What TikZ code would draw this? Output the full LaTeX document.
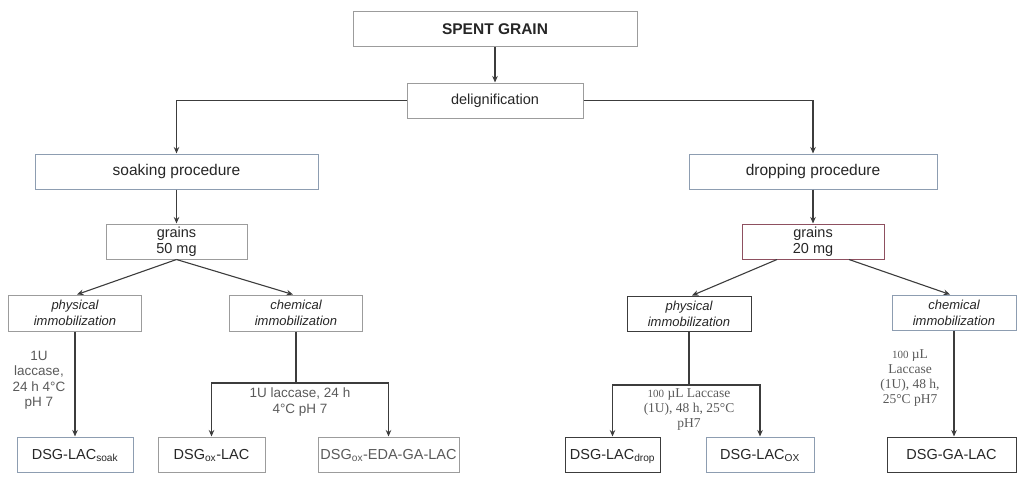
\documentclass[tikz,border=0pt]{standalone}
\usepackage{fontspec}
\setmainfont{Liberation Sans}
\newfontfamily\timesfont{Liberation Serif}
\usetikzlibrary{arrows.meta}
\definecolor{boxgray}{HTML}{9C9C9C}
\definecolor{boxblue}{HTML}{8D9DB1}
\definecolor{boxdark}{HTML}{3C3C3C}
\definecolor{boxred}{HTML}{8E5060}
\definecolor{txt}{HTML}{262626}
\definecolor{notegray}{HTML}{5A5A5A}

\begin{document}
\begin{tikzpicture}[
  x=1pt, y=-1pt,
  box/.style={rectangle, draw=boxgray, line width=1pt, text=txt, inner sep=0pt,
    minimum height=35pt, align=center, font=\fontsize{14.5}{16.5}\selectfont},
  outbox/.style={box, text height=11pt, text depth=2pt},
  immo/.style={box, font=\fontsize{13}{16}\selectfont\itshape},
  note/.style={text=notegray, align=center, font=\fontsize{13.5}{15.5}\selectfont},
  tnote/.style={text=notegray, align=center, font=\fontsize{13.5}{15}\selectfont\timesfont},
  link/.style={draw=boxdark, line width=1.1pt},
  arr/.style={link, -{Stealth[length=6.5pt,width=5.5pt]}}
]
  \useasboundingbox (0,0) rectangle (1024,480);

  \node[box, minimum width=284pt, font=\fontsize{15.5}{17}\selectfont\bfseries] (sg) at (495,29) {SPENT GRAIN};
  \node[box, minimum width=176pt] (delig) at (495,100.5) {delignification};
  \node[box, draw=boxblue, minimum width=283pt, font=\fontsize{15.5}{17}\selectfont] (soak) at (176.5,171.5) {soaking procedure};
  \node[box, draw=boxblue, minimum width=248pt, font=\fontsize{15.5}{17}\selectfont] (drop) at (813,171.5) {dropping procedure};
  \node[box, minimum width=141pt] (g50) at (176.5,241.5) {grains\\50 mg};
  \node[box, draw=boxred, minimum width=142pt] (g20) at (813,241.5) {grains\\20 mg};

  \node[immo, minimum width=133pt, minimum height=36pt] (phys1) at (75,313) {physical\\immobilization};
  \node[immo, minimum width=133pt, minimum height=36pt] (chem1) at (296,313) {chemical\\immobilization};
  \node[immo, draw=boxdark, minimum width=124pt] (phys2) at (689,313.5) {physical\\immobilization};
  \node[immo, draw=boxblue, minimum width=124pt] (chem2) at (954,312.5) {chemical\\immobilization};

  \node[outbox, draw=boxblue, minimum width=116pt] (lacsoak) at (75,454.5) {DSG-LAC\textsubscript{soak}};
  \node[outbox, minimum width=107pt] (oxlac) at (211.5,454.5) {DSG\textsubscript{ox}-LAC};
  \node[outbox, minimum width=141pt, text=notegray] (edalac) at (388.5,454.5) {DSG\textsubscript{ox}-EDA-GA-LAC};
  \node[outbox, draw=boxdark, minimum width=95pt] (lacdrop) at (612.5,454.5) {DSG-LAC\textsubscript{drop}};
  \node[outbox, draw=boxblue, minimum width=108pt] (lacox) at (760,454.5) {DSG-LAC\textsubscript{OX}};
  \node[outbox, draw=boxdark, minimum width=129pt] (galac) at (951.5,454.5) {DSG-GA-LAC};

  \coordinate (split1) at (296,383);
  \coordinate (split2) at (689,385);

  \draw[arr] (sg) -- (delig);
  \draw[arr] (delig.west) -| (soak.north);
  \draw[arr] (delig.east) -| (drop.north);
  \draw[arr] (soak) -- (g50);
  \draw[arr] (drop) -- (g20);
  \draw[arr] (g50.south) -- ([xshift=2pt]phys1.north);
  \draw[arr] (g50.south) -- ([xshift=-3pt]chem1.north);
  \draw[arr] ([xshift=-36pt]g20.south) -- ([xshift=3pt]phys2.north);
  \draw[arr] ([xshift=36pt]g20.south) -- ([xshift=-4pt]chem2.north);
  \draw[arr] (phys1) -- (lacsoak);
  \draw[link] (chem1) -- (split1);
  \draw[arr] (split1) -| (oxlac.north);
  \draw[arr] (split1) -| (edalac.north);
  \draw[link] (phys2) -- (split2);
  \draw[arr] (split2) -| (lacdrop.north);
  \draw[arr] (split2) -| (lacox.north);
  \draw[arr] (chem2.south) -- (chem2.south |- galac.north);

  \node[note] (n1) at (39,380) {1U\\laccase,\\24 h 4°C\\pH 7};
  \node[note] (n2) at (300,402) {1U laccase, 24 h\\4°C pH 7};
  \node[tnote] (n3) at (689,410) {{\fontsize{11}{15}\selectfont 100} µL Laccase\\(1U), 48 h, 25°C\\pH7};
  \node[tnote] (n4) at (910,378) {{\fontsize{11}{15}\selectfont 100} µL\\Laccase\\(1U), 48 h,\\25°C pH7};
\end{tikzpicture}
\end{document}
